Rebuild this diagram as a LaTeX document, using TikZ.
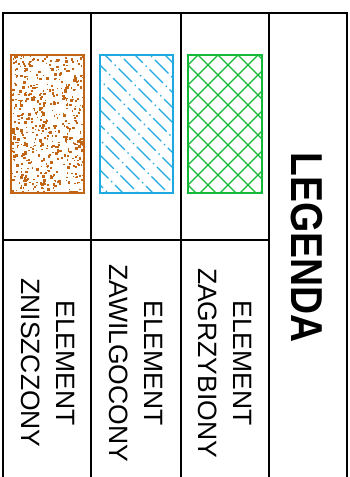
\documentclass[tikz,border=0pt]{standalone}
\usepackage{fontspec}
\setmainfont{Liberation Sans}
\usepackage{graphicx}
\definecolor{brownc}{RGB}{192,102,22}
\definecolor{bluec}{RGB}{30,170,225}
\definecolor{greenc}{RGB}{20,185,55}
\tikzset{
  frame/.style={draw=black, line width=1.1pt},
  lbl/.style={rotate=-90, align=center, inner sep=0pt, font=\fontsize{26.5}{35}\selectfont},
  swatch/.style={line width=1.1pt}
}
\begin{document}
\begin{tikzpicture}[x=1pt,y=-1pt]
\useasboundingbox (0,0) rectangle (350,477);
% frame
\draw[frame] (3,477) -- (3,13) -- (347,13) -- (347,477);
\draw[frame] (91,13) -- (91,477);
\draw[frame] (181,13) -- (181,477);
\draw[frame] (269,13) -- (269,477);
\draw[frame] (3,240) -- (269,240);
% brown speckle swatch
\begin{scope}
\clip (11,55) rectangle (84,193);
\pgfmathsetseed{4242}
\foreach \i in {1,...,560}{
  \pgfmathsetmacro\rx{11+73*rnd}
  \pgfmathsetmacro\ry{55+138*rnd}
  \pgfmathsetmacro\rs{1.3+2.4*rnd*rnd}
  \fill[brownc] (\rx,\ry) rectangle ++(\rs,\rs);
}
\end{scope}
\draw[brownc, swatch] (11,55) rectangle (84,193);
% blue hatch swatch
\begin{scope}
\clip (100,55) rectangle (173,193);
\foreach \k in {-150,-135,...,180}{
  \draw[bluec, line width=1.4pt, dash pattern=on 19pt off 4pt on 1.4pt off 4pt, dash phase=\k*0.9] (\k,55) -- ++(200,200);
}
\end{scope}
\draw[bluec, swatch] (100,55) rectangle (173,193);
% green crosshatch swatch
\begin{scope}
\clip (188,55) rectangle (262,193);
\foreach \k in {-142,-122,...,420}{
  \draw[greenc, line width=1.3pt] (\k,55) -- ++(160,160);
  \draw[greenc, line width=1.3pt] (\k,55) -- ++(-160,160);
}
\end{scope}
\draw[greenc, swatch] (188,55) rectangle (262,193);
% labels
\node[lbl] (l1) at (47.5,363) {ELEMENT\\ZNISZCZONY};
\node[lbl] (l2) at (136,363) {ELEMENT\\ZAWILGOCONY};
\node[lbl] (l3) at (225,363) {ELEMENT\\ZAGRZYBIONY};
\node[rotate=-90, inner sep=0pt, font=\fontsize{44.7}{50}\selectfont\bfseries] (title) at (307,248) {\scalebox{0.87}[1]{LEGENDA}};
\end{tikzpicture}
\end{document}
